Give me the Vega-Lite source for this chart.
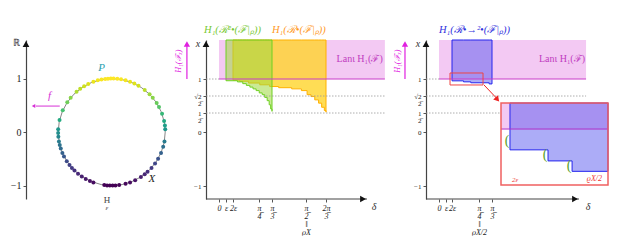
{
  "$schema": "https://vega.github.io/schema/vega-lite/v6.json",
  "padding": {"left": 10, "top": 25, "right": 0, "bottom": 0},
  "background": "white",
  "spacing": 30,
  "bounds": "flush",
  "config": {
    "view": {"stroke": null},
    "font": "Liberation Serif",
    "axis": {"labelFont": "Liberation Serif", "labelFontSize": 9, "labelColor": "#222", "tickColor": "#555", "domainColor": "#444", "domainWidth": 1.2, "grid": false, "title": null, "labelOverlap": false, "tickSize": 3, "labelPadding": 2},
    "text": {"font": "Liberation Serif", "fontStyle": "italic"}
  },
  "datasets": {
    "circ": [
      {"px":0.999,"py":0.052},{"px":0.993,"py":0.122},{"px":0.978,"py":0.208},{"px":0.94,"py":0.342},{"px":0.883,"py":0.469},{"px":0.839,"py":0.545},{"px":0.766,"py":0.643},{"px":0.707,"py":0.707},{"px":0.616,"py":0.788},{"px":0.5,"py":0.866},{"px":0.423,"py":0.906},{"px":0.342,"py":0.94},{"px":0.259,"py":0.966},{"px":0.174,"py":0.985},{"px":0.105,"py":0.995},{"px":0.035,"py":0.999},{"px":-0.017,"py":1.0},{"px":-0.07,"py":0.998},{"px":-0.122,"py":0.993},{"px":-0.191,"py":0.982},{"px":-0.259,"py":0.966},{"px":-0.342,"py":0.94},{"px":-0.438,"py":0.899},{"px":-0.515,"py":0.857},{"px":-0.588,"py":0.809},{"px":-0.656,"py":0.755},{"px":-0.766,"py":0.643},{"px":-0.829,"py":0.559},{"px":-0.914,"py":0.407},{"px":-0.974,"py":0.225},{"px":-0.999,"py":0.052},{"px":-1.0,"py":-0.017},{"px":-0.996,"py":-0.087},{"px":-0.985,"py":-0.174},{"px":-0.97,"py":-0.242},{"px":-0.951,"py":-0.309},{"px":-0.921,"py":-0.391},{"px":-0.891,"py":-0.454},{"px":-0.839,"py":-0.545},{"px":-0.788,"py":-0.616},{"px":-0.743,"py":-0.669},{"px":-0.695,"py":-0.719},{"px":-0.629,"py":-0.777},{"px":-0.559,"py":-0.829},{"px":-0.485,"py":-0.875},{"px":-0.407,"py":-0.914},{"px":-0.342,"py":-0.94},{"px":-0.139,"py":-0.99},{"px":-0.087,"py":-0.996},{"px":-0.035,"py":-0.999},{"px":0.017,"py":-1.0},{"px":0.07,"py":-0.998},{"px":0.139,"py":-0.99},{"px":0.259,"py":-0.966},{"px":0.342,"py":-0.94},{"px":0.438,"py":-0.899},{"px":0.545,"py":-0.839},{"px":0.616,"py":-0.788},{"px":0.669,"py":-0.743},{"px":0.743,"py":-0.669},{"px":0.809,"py":-0.588},{"px":0.866,"py":-0.5},{"px":0.921,"py":-0.391},{"px":0.961,"py":-0.276},{"px":0.985,"py":-0.174}
    ],
    "yellow": [
      {"d":0.2,"v":0.98},{"d":0.35,"v":0.96},{"d":0.55,"v":0.93},{"d":0.8,"v":0.9},{"d":1.0,"v":0.87},{"d":1.15,"v":0.85},{"d":1.35,"v":0.83},{"d":1.5,"v":0.8},{"d":1.6,"v":0.73},{"d":1.7,"v":0.7},{"d":1.8,"v":0.66},{"d":1.9,"v":0.62},{"d":1.98,"v":0.57},{"d":2.05,"v":0.53},{"d":2.094,"v":0.51}
    ],
    "green": [
      {"d":0.1,"v":0.97},{"d":0.3,"v":0.95},{"d":0.42,"v":0.92},{"d":0.5,"v":0.89},{"d":0.58,"v":0.86},{"d":0.65,"v":0.83},{"d":0.72,"v":0.8},{"d":0.79,"v":0.76},{"d":0.85,"v":0.73},{"d":0.9,"v":0.69},{"d":0.95,"v":0.65},{"d":0.99,"v":0.6},{"d":1.02,"v":0.55},{"d":1.047,"v":0.52}
    ],
    "blue": [
      {"d":0.2,"v":0.968},{"d":0.45,"v":0.951},{"d":0.608,"v":0.935},{"d":0.99,"v":0.915},{"d":1.047,"v":0.915}
    ],
    "blueInset": [
      {"d":0.2,"v":0.968},{"d":0.45,"v":0.951},{"d":0.608,"v":0.935},{"d":0.844,"v":0.935}
    ]
  },
  "hconcat": [
    {
      "width": 150, "height": 159,
      "encoding": {
        "x": {"field": "px", "type": "quantitative", "scale": {"domain": [-1.6, 1.2], "nice": false, "zero": false}, "axis": null},
        "y": {"field": "py", "type": "quantitative", "scale": {"domain": [-1.25, 1.72], "nice": false, "zero": false}, "axis": {"values": [-1, 0, 1], "labelFontSize": 10, "labelExpr": "datum.value < 0 ? '−1' : datum.label"}}
      },
      "layer": [
        {"data": {"values": [{"px": 0, "py": 0}]}, "mark": {"type": "point", "shape": "circle", "size": 11449, "filled": false, "stroke": "#666", "strokeWidth": 0.8, "opacity": 1}},
        {"data": {"name": "circ"}, "mark": {"type": "circle", "size": 16, "opacity": 1},
         "encoding": {"color": {"field": "py", "type": "quantitative", "scale": {"scheme": "viridis", "domain": [-1, 1]}, "legend": null}}},
        {"data": {"values": [{"px": -0.19, "py": 1.2, "t": "P"}]}, "mark": {"type": "text", "color": "#2a9fb0", "fontSize": 11}, "encoding": {"text": {"field": "t"}}},
        {"data": {"values": [{"px": 0.75, "py": -0.88, "t": "X"}]}, "mark": {"type": "text", "color": "#222", "fontSize": 11}, "encoding": {"text": {"field": "t"}}},
        {"data": {"values": [{"px": -1.16, "py": 0.67, "t": "f"}]}, "mark": {"type": "text", "color": "#d630d6", "fontSize": 11}, "encoding": {"text": {"field": "t"}}},
        {"data": {"values": [{"px": -0.97, "px2": -1.42, "py": 0.486}]}, "mark": {"type": "rule", "color": "#d630d6", "strokeWidth": 1}, "encoding": {"x2": {"field": "px2"}}},
        {"data": {"values": [{"px": -1.46, "py": 0.486}]}, "mark": {"type": "point", "shape": "triangle-left", "filled": true, "color": "#d630d6", "size": 16, "opacity": 1}},
        {"data": {"values": [{"px": -0.09, "py": -1.26, "t": "H"}]}, "mark": {"type": "text", "color": "#444", "fontSize": 9, "fontStyle": "normal"}, "encoding": {"text": {"field": "t"}}},
        {"data": {"values": [{"px": -0.09, "py": -1.41, "t": "ε"}]}, "mark": {"type": "text", "color": "#444", "fontSize": 7}, "encoding": {"text": {"field": "t"}}},
        {"data": {"values": [{"px": -1.6, "py": 1.66, "t": "ℝ"}]}, "mark": {"type": "text", "color": "#333", "fontSize": 10, "fontStyle": "normal", "dx": -10}, "encoding": {"text": {"field": "t"}}},
        {"data": {"values": [{"px": -1.6, "py": 1.645}]}, "mark": {"type": "point", "shape": "triangle-up", "filled": true, "color": "#111", "size": 45, "opacity": 1}}
      ]
    },
    {
      "width": 190, "height": 159,
      "encoding": {
        "x": {"field": "d", "type": "quantitative",
              "scale": {"type": "linear", "domain": [-0.235, 0, 0.1, 0.2, 0.785, 1.047, 1.571, 2.094, 3.385], "range": [0, 13, 20, 27, 53, 66, 100, 120, 190], "nice": false, "zero": false},
              "axis": {"values": [0, 0.1, 0.2, 0.785, 1.047, 1.571, 2.094], "domain": false, "labelFontSize": 8, "labelLineHeight": 8, "labelFontStyle": "italic",
                       "labelExpr": "datum.value == 0 ? '0' : datum.value == 0.1 ? 'ε' : datum.value == 0.2 ? '2ε' : datum.value == 0.785 ? ['π','4\u0305'] : datum.value == 1.047 ? ['π','3\u0305'] : datum.value == 1.571 ? ['π','2\u0305','‖','ϱX'] : ['2π','3\u0305']"}},
        "y": {"field": "v", "type": "quantitative",
              "scale": {"type": "linear", "domain": [-1.25, -1, 0, 0.5, 0.707, 1, 1.72], "range": [159, 146, 92, 73, 56, 39, 0], "nice": false, "zero": false},
              "axis": {"values": [-1, 0, 0.5, 0.707, 1], "labelFontSize": 7, "labelLineHeight": 7.5,
                       "labelExpr": "datum.value == 1 ? '1' : datum.value == 0.707 ? ['√2','2\u0305'] : datum.value == 0.5 ? ['1','2\u0305'] : datum.value == 0 ? '0' : '−1'"}}
      },
      "layer": [
        {"data": {"values": [{"d": 0, "d2": 3.18, "v": 1, "v2": 1.72}]}, "mark": {"type": "rect", "color": "#f3c9f3", "opacity": 1}, "encoding": {"x2": {"field": "d2"}, "y2": {"field": "v2"}}},
        {"data": {"name": "yellow"}, "mark": {"type": "area", "interpolate": "step-after", "color": "#ffd42a", "fillOpacity": 0.8, "stroke": "#ffb000", "strokeWidth": 1}, "encoding": {"y2": {"datum": 1.72}}},
        {"data": {"name": "green"}, "mark": {"type": "area", "interpolate": "step-after", "color": "#9fd840", "fillOpacity": 0.55, "stroke": "#6fd022", "strokeWidth": 1}, "encoding": {"y2": {"datum": 1.72}}},
        {"data": {"values": [{"d": 0.1}, {"d": 0.2}, {"d": 0.785}, {"d": 1.047}, {"d": 1.571}, {"d": 2.094}, {"d": 0}]}, "mark": {"type": "rule", "color": "#999", "strokeWidth": 0.8, "strokeDash": [1.5, 1.5]}, "encoding": {"y": {"datum": -1.25}, "y2": {"datum": 1.0}}},
        {"data": {"values": [{"d": 0.1}, {"d": 0.2}, {"d": 0.785}, {"d": 1.047}, {"d": 1.571}, {"d": 2.094}]}, "mark": {"type": "rule", "color": "#888", "strokeWidth": 0.8, "strokeDash": [1.5, 1.5]}, "encoding": {"y": {"datum": 1.0}, "y2": {"datum": 1.72}}},
        {"data": {"values": [{"v": 0.707, "d": -0.235, "d2": 3.18}, {"v": 0.5, "d": -0.235, "d2": 3.18}, {"v": 1, "d": -0.235, "d2": 0}]}, "mark": {"type": "rule", "color": "#999", "strokeWidth": 0.8, "strokeDash": [1.5, 1.5]}, "encoding": {"x2": {"field": "d2"}}},
        {"data": {"values": [{"v": 1, "d": 0, "d2": 3.18}]}, "mark": {"type": "rule", "color": "#c83cc8", "strokeWidth": 1}, "encoding": {"x2": {"field": "d2"}}},
        {"data": {"values": [{"d": 0}]}, "mark": {"type": "rule", "color": "#b020b0", "strokeWidth": 1, "strokeDash": [1.5, 1.5]}, "encoding": {"y": {"datum": 1.0}, "y2": {"datum": 1.72}}},
        {"data": {"values": [{"v": -1.25, "d": -0.235, "d2": 2.85}]}, "mark": {"type": "rule", "color": "#444", "strokeWidth": 1.2}, "encoding": {"x2": {"field": "d2"}}},
        {"data": {"values": [{"d": 2.777, "v": -1.25}]}, "mark": {"type": "point", "shape": "triangle-right", "filled": true, "color": "#111", "size": 45, "opacity": 1}},
        {"data": {"values": [{"d": -0.235, "v": 1.646}]}, "mark": {"type": "point", "shape": "triangle-up", "filled": true, "color": "#111", "size": 45, "opacity": 1}},
        {"data": {"values": [{"d": -0.235, "v": 1.72, "t": "x"}]}, "mark": {"type": "text", "color": "#333", "fontSize": 10, "dx": -8, "dy": 4}, "encoding": {"text": {"field": "t"}}},
        {"data": {"values": [{"d": 2.85, "v": -1.25, "t": "δ"}]}, "mark": {"type": "text", "color": "#333", "fontSize": 10, "dx": 7, "dy": 8}, "encoding": {"text": {"field": "t"}}},
        {"data": {"values": [{"d": -0.27, "v": 1.72, "t": "H₁(ℛ²•(ℱ|ₚ))"}]}, "mark": {"type": "text", "color": "#77c932", "fontSize": 10.5, "align": "left", "baseline": "alphabetic", "dy": -7}, "encoding": {"text": {"field": "t"}}},
        {"data": {"values": [{"d": 1.047, "v": 1.72, "t": "H₁(ℛ•(ℱ|ₚ))"}]}, "mark": {"type": "text", "color": "#ff9a1f", "fontSize": 10.5, "align": "left", "baseline": "alphabetic", "dy": -7}, "encoding": {"text": {"field": "t"}}},
        {"data": {"values": [{"d": 3.14, "v": 1.37, "t": "Lanι H₁(ℱ)"}]}, "mark": {"type": "text", "color": "#c03cc0", "fontSize": 10, "align": "right", "fontStyle": "normal"}, "encoding": {"text": {"field": "t"}}},
        {"data": {"values": [{"d": -0.58, "v": 1.0, "v2": 1.66}]}, "mark": {"type": "rule", "color": "#e020e0", "strokeWidth": 1.2}, "encoding": {"y2": {"field": "v2"}}},
        {"data": {"values": [{"d": -0.58, "v": 1.646}]}, "mark": {"type": "point", "shape": "triangle-up", "filled": true, "color": "#e020e0", "size": 40, "opacity": 1}},
        {"data": {"values": [{"d": -0.72, "v": 1.33, "t": "H₁(ℱₓ)"}]}, "mark": {"type": "text", "color": "#e020e0", "fontSize": 8, "angle": 270}, "encoding": {"text": {"field": "t"}}}
      ]
    },
    {
      "width": 186, "height": 159,
      "resolve": {"scale": {"x": "independent", "y": "independent"}},
      "layer": [
        {
          "encoding": {
            "x": {"field": "d", "type": "quantitative",
                  "scale": {"type": "linear", "domain": [-0.235, 0, 0.1, 0.2, 0.785, 1.047, 3.347], "range": [0, 13, 20, 26, 53, 66, 186], "nice": false, "zero": false},
                  "axis": {"values": [0, 0.1, 0.2, 0.785, 1.047], "domain": false, "labelFontSize": 8, "labelLineHeight": 8, "labelFontStyle": "italic",
                           "labelExpr": "datum.value == 0 ? '0' : datum.value == 0.1 ? 'ε' : datum.value == 0.2 ? '2ε' : datum.value == 0.785 ? ['π','4\u0305','‖','ϱX/2'] : ['π','3\u0305']"}},
            "y": {"field": "v", "type": "quantitative",
                  "scale": {"type": "linear", "domain": [-1.25, -1, 0, 0.5, 0.707, 1, 1.72], "range": [159, 146, 92, 73, 56, 39, 0], "nice": false, "zero": false},
                  "axis": {"values": [-1, 0, 0.5, 0.707, 1], "labelFontSize": 7, "labelLineHeight": 7.5,
                           "labelExpr": "datum.value == 1 ? '1' : datum.value == 0.707 ? ['√2','2\u0305'] : datum.value == 0.5 ? ['1','2\u0305'] : datum.value == 0 ? '0' : '−1'"}}
          },
          "layer": [
            {"data": {"values": [{"d": 0, "d2": 2.85, "v": 1, "v2": 1.72}]}, "mark": {"type": "rect", "color": "#f3c9f3", "opacity": 1}, "encoding": {"x2": {"field": "d2"}, "y2": {"field": "v2"}}},
            {"data": {"name": "blue"}, "mark": {"type": "area", "interpolate": "step-after", "color": "#5a5af0", "fillOpacity": 0.5, "stroke": "#2424ee", "strokeWidth": 1}, "encoding": {"y2": {"datum": 1.72}}},
            {"data": {"values": [{"d": 0}, {"d": 0.1}, {"d": 1.047}]}, "mark": {"type": "rule", "color": "#999", "strokeWidth": 0.8, "strokeDash": [1.5, 1.5]}, "encoding": {"y": {"datum": -1.25}, "y2": {"datum": 1.0}}},
            {"data": {"values": [{"d": 0.1}, {"d": 1.047}]}, "mark": {"type": "rule", "color": "#888", "strokeWidth": 0.8, "strokeDash": [1.5, 1.5]}, "encoding": {"y": {"datum": 1.0}, "y2": {"datum": 1.72}}},
            {"data": {"values": [{"d": 0.2}, {"d": 0.785}]}, "mark": {"type": "rule", "color": "#ee4444", "strokeWidth": 0.8, "strokeDash": [2, 1.5]}, "encoding": {"y": {"datum": -1.25}, "y2": {"datum": 1.72}}},
            {"data": {"values": [{"v": 0.707, "d": -0.235, "d2": 2.85}, {"v": 0.5, "d": -0.235, "d2": 2.85}, {"v": 1, "d": -0.235, "d2": 0}]}, "mark": {"type": "rule", "color": "#999", "strokeWidth": 0.8, "strokeDash": [1.5, 1.5]}, "encoding": {"x2": {"field": "d2"}}},
            {"data": {"values": [{"v": 1, "d": 0, "d2": 2.85}]}, "mark": {"type": "rule", "color": "#c83cc8", "strokeWidth": 1}, "encoding": {"x2": {"field": "d2"}}},
            {"data": {"values": [{"d": 0}]}, "mark": {"type": "rule", "color": "#b020b0", "strokeWidth": 1, "strokeDash": [1.5, 1.5]}, "encoding": {"y": {"datum": 1.0}, "y2": {"datum": 1.72}}},
            {"data": {"values": [{"d": 0.167, "d2": 0.866, "v": 0.897, "v2": 1.111}]}, "mark": {"type": "rect", "fill": null, "fillOpacity": 0, "stroke": "#ee4444", "strokeWidth": 1}, "encoding": {"x2": {"field": "d2"}, "y2": {"field": "v2"}}},
            {"data": {"values": [{"d": 0.886, "v": 0.897, "d2": 1.15, "v2": 0.67}]}, "mark": {"type": "rule", "color": "#ee2222", "strokeWidth": 1}, "encoding": {"x2": {"field": "d2"}, "y2": {"field": "v2"}}},
            {"data": {"values": [{"d": 1.15, "v": 0.665}]}, "mark": {"type": "point", "shape": "triangle-down", "angle": 319, "filled": true, "color": "#ee2222", "size": 40, "opacity": 1}},
            {"data": {"values": [{"v": -1.25, "d": -0.235, "d2": 2.715}]}, "mark": {"type": "rule", "color": "#444", "strokeWidth": 1.2}, "encoding": {"x2": {"field": "d2"}}},
            {"data": {"values": [{"d": 2.638, "v": -1.25}]}, "mark": {"type": "point", "shape": "triangle-right", "filled": true, "color": "#111", "size": 45, "opacity": 1}},
            {"data": {"values": [{"d": -0.235, "v": 1.646}]}, "mark": {"type": "point", "shape": "triangle-up", "filled": true, "color": "#111", "size": 45, "opacity": 1}},
            {"data": {"values": [{"d": -0.235, "v": 1.72, "t": "x"}]}, "mark": {"type": "text", "color": "#333", "fontSize": 10, "dx": -8, "dy": 4}, "encoding": {"text": {"field": "t"}}},
            {"data": {"values": [{"d": 2.715, "v": -1.25, "t": "δ"}]}, "mark": {"type": "text", "color": "#333", "fontSize": 10, "dx": 9, "dy": 8}, "encoding": {"text": {"field": "t"}}},
            {"data": {"values": [{"d": 0, "v": 1.72, "t": "H₁(ℛ•→²•(ℱ|ₚ))"}]}, "mark": {"type": "text", "color": "#3030dd", "fontSize": 10.5, "align": "left", "baseline": "alphabetic", "dy": -7}, "encoding": {"text": {"field": "t"}}},
            {"data": {"values": [{"d": 2.83, "v": 1.37, "t": "Lanι H₁(ℱ)"}]}, "mark": {"type": "text", "color": "#c03cc0", "fontSize": 10, "align": "right", "fontStyle": "normal"}, "encoding": {"text": {"field": "t"}}},
            {"data": {"values": [{"d": -0.615, "v": 1.0, "v2": 1.66}]}, "mark": {"type": "rule", "color": "#e020e0", "strokeWidth": 1.2}, "encoding": {"y2": {"field": "v2"}}},
            {"data": {"values": [{"d": -0.615, "v": 1.646}]}, "mark": {"type": "point", "shape": "triangle-up", "filled": true, "color": "#e020e0", "size": 40, "opacity": 1}},
            {"data": {"values": [{"d": -0.74, "v": 1.33, "t": "H₁(ℱₓ)"}]}, "mark": {"type": "text", "color": "#e020e0", "fontSize": 8, "angle": 270}, "encoding": {"text": {"field": "t"}}}
          ]
        },
        {
          "encoding": {
            "x": {"field": "d", "type": "quantitative", "scale": {"domain": [0.141, 0.844], "range": [75, 182], "nice": false, "zero": false}, "axis": null},
            "y": {"field": "v", "type": "quantitative", "scale": {"domain": [0.914, 1.04], "range": [145, 63], "nice": false, "zero": false}, "axis": null}
          },
          "layer": [
            {"data": {"values": [{"d": 0.141, "d2": 0.844, "v": 0.914, "v2": 1.04}]}, "mark": {"type": "rect", "color": "white", "opacity": 1}, "encoding": {"x2": {"field": "d2"}, "y2": {"field": "v2"}}},
            {"data": {"values": [{"d": 0.141, "d2": 0.844, "v": 1.0, "v2": 1.04}]}, "mark": {"type": "rect", "color": "#f3c9f3", "opacity": 1}, "encoding": {"x2": {"field": "d2"}, "y2": {"field": "v2"}}},
            {"data": {"name": "blueInset"}, "mark": {"type": "area", "interpolate": "step-after", "color": "#5a5af0", "fillOpacity": 0.5, "stroke": "#2424ee", "strokeWidth": 1}, "encoding": {"y2": {"datum": 1.04}}},
            {"data": {"values": [{"v": 1, "d": 0.141, "d2": 0.844}]}, "mark": {"type": "rule", "color": "#b030c8", "strokeWidth": 1}, "encoding": {"x2": {"field": "d2"}}},
            {"data": {"values": [{"d": 0.2}, {"d": 0.785}]}, "mark": {"type": "rule", "color": "#ee4444", "strokeWidth": 0.8, "strokeDash": [2, 1.5]}, "encoding": {"y": {"datum": 0.914}, "y2": {"datum": 1.04}}},
            {"data": {"values": [{"d": 0.2, "v": 0.982, "t": "("}, {"d": 0.45, "v": 0.96, "t": "("}, {"d": 0.608, "v": 0.943, "t": "("}]}, "mark": {"type": "text", "color": "#5aa02a", "fontSize": 14, "fontStyle": "normal", "dx": -3}, "encoding": {"text": {"field": "t"}}},
            {"data": {"values": [{"d": 0.2, "v": 0.914, "t": "2ε"}]}, "mark": {"type": "text", "color": "#ee3333", "fontSize": 7, "align": "left", "baseline": "bottom", "dx": 2, "dy": -2}, "encoding": {"text": {"field": "t"}}},
            {"data": {"values": [{"d": 0.785, "v": 0.914, "t": "ϱX/2"}]}, "mark": {"type": "text", "color": "#ee3333", "fontSize": 8, "align": "right", "baseline": "bottom", "dx": 3, "dy": -2}, "encoding": {"text": {"field": "t"}}},
            {"data": {"values": [{"d": 0.141, "d2": 0.844, "v": 0.914, "v2": 1.04}]}, "mark": {"type": "rect", "fill": null, "fillOpacity": 0, "stroke": "#f06060", "strokeWidth": 1.5}, "encoding": {"x2": {"field": "d2"}, "y2": {"field": "v2"}}}
          ]
        }
      ]
    }
  ]
}
